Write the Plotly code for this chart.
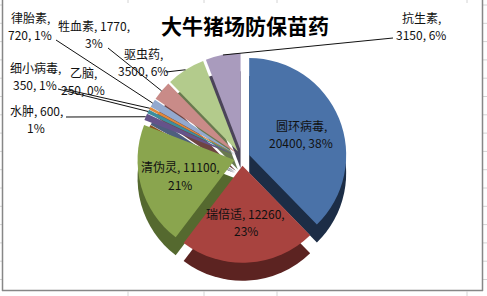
import math
import plotly.graph_objects as go

# ---------------- data ----------------
labels = ["圆环病毒", "瑞倍适", "清伪灵", "水肿", "细小病毒", "乙脑", "律胎素", "牲血素", "驱虫药", "抗生素"]
values = [20400, 12260, 11100, 600, 350, 250, 720, 1770, 3500, 3150]
title_text = "大牛猪场防保苗药"

# ---------------- style ----------------
top_colors = ["#4A72A8", "#A8433F", "#8AA54E", "#65538A", "#3D8E9E",
              "#E0893B", "#93A9CF", "#C98B88", "#B3CB8C", "#A99BBD"]
side_colors = ["#1C2D46", "#5C2321", "#55692F", "#2E2540", "#1F4C56",
               "#8A4F1E", "#4E5F7E", "#6E4442", "#69794F", "#4B4459"]
break_after = [1, 2, 2, 2, 1, 1, 1, 2, 1, 1]
inside = [True, True, True, False, False, False, False, False, False, False]
# label block centres (px) for outside labels, and leader-line start (px)
label_pos = {3: (36, 119), 4: (35, 76), 5: (83, 81), 6: (30, 26), 7: (94, 34), 8: (143, 62), 9: (421, 26)}
leader_start = {3: (66, 117), 4: (58, 89), 5: (64, 89), 6: (56, 40), 7: (108, 48), 8: (166, 72), 9: (393, 38)}

W, H = 487, 296
CX, CY, R, PULL, DEPTH = 242, 158, 97, 0.08, 18
FONT = "Noto Sans CJK SC"
LS = 17.5  # line spacing px

total = sum(values)
hb = R * (1 + PULL)
dom_x = [(CX - hb) / W, (CX + hb) / W]
dom_top = [(H - (CY + hb)) / H, (H - (CY - hb)) / H]
dom_side = [(H - (CY + DEPTH + hb)) / H, (H - (CY + DEPTH - hb)) / H]


def px(x, y):
    return x / W, (H - y) / H


fig = go.Figure()
common = dict(labels=labels, values=values, sort=False, direction="clockwise",
              rotation=0, pull=[PULL] * len(values), textinfo="none",
              hoverinfo="skip", showlegend=False)
fig.add_trace(go.Pie(domain=dict(x=dom_x, y=dom_side),
                     marker=dict(colors=side_colors, line=dict(width=0)), **common))
fig.add_trace(go.Pie(domain=dict(x=dom_x, y=dom_top),
                     marker=dict(colors=top_colors, line=dict(width=0)), **common))

annotations = []
shapes = []
cum = 0
lab_font = dict(family=FONT, size=12, color="#111")
for i, (lab, v) in enumerate(zip(labels, values)):
    pct = f"{round(100 * v / total)}%"
    parts = [lab, f"{v}", pct]
    lines = [", ".join(parts[:break_after[i]]) + ",", ", ".join(parts[break_after[i]:])]
    theta = 2 * math.pi * (cum + v / 2) / total
    cum += v
    dx, dy = math.sin(theta), -math.cos(theta)
    if inside[i]:
        rr = PULL * R + 0.58 * R
        bx, by = CX + dx * rr, CY + dy * rr
    else:
        bx, by = label_pos[i]
        sx, sy = leader_start[i]
        ex = CX + dx * (PULL * R + R)
        ey = CY + dy * (PULL * R + R)
        x0, y0 = px(sx, sy)
        x1, y1 = px(ex, ey)
        shapes.append(dict(type="line", xref="paper", yref="paper", x0=x0, y0=y0, x1=x1, y1=y1,
                           line=dict(color="#111", width=1)))
    for k, ln in enumerate(lines):
        x, y = px(bx, by + (k - 0.5) * LS)
        annotations.append(dict(x=x, y=y, xref="paper", yref="paper", text=ln,
                                xanchor="center", yanchor="middle",
                                showarrow=False, font=lab_font))

# title
tx, ty = px(245, 25)
annotations.append(dict(x=tx, y=ty, xref="paper", yref="paper", text=f"<b>{title_text}</b>",
                        xanchor="center", yanchor="middle",
                        showarrow=False, font=dict(family=FONT, size=21, color="#000")))

# worksheet gridlines outside the chart area
grid = "#D4D4D4"
for gx in [128, 204, 277, 467]:
    a = px(gx, 291.5); b = px(gx, 296)
    shapes.append(dict(type="line", xref="paper", yref="paper", x0=a[0], y0=a[1], x1=b[0], y1=b[1],
                       line=dict(color=grid, width=1)))
    a = px(gx, 0); b = px(gx, 3)
    shapes.append(dict(type="line", xref="paper", yref="paper", x0=a[0], y0=a[1], x1=b[0], y1=b[1],
                       line=dict(color=grid, width=1)))
k = 0
while 5 + 18.3 * k < 291:
    gy = 5 + 18.3 * k
    a = px(483, gy); b = px(487, gy)
    shapes.append(dict(type="line", xref="paper", yref="paper", x0=a[0], y0=a[1], x1=b[0], y1=b[1],
                       line=dict(color=grid, width=1)))
    a = px(0, gy); b = px(2, gy)
    shapes.append(dict(type="line", xref="paper", yref="paper", x0=a[0], y0=a[1], x1=b[0], y1=b[1],
                       line=dict(color=grid, width=1)))
    k += 1

# chart border (left, bottom, right)
bc = "#878787"
for (xa, ya, xb, yb) in [(2.5, 0, 2.5, 291), (2, 290.5, 483, 290.5), (482.5, 0, 482.5, 291)]:
    a = px(xa, ya); b = px(xb, yb)
    shapes.append(dict(type="line", xref="paper", yref="paper", x0=a[0], y0=a[1], x1=b[0], y1=b[1],
                       line=dict(color=bc, width=1.5)))

fig.update_layout(width=W, height=H, margin=dict(l=0, r=0, t=0, b=0),
                  paper_bgcolor="white", plot_bgcolor="white",
                  annotations=annotations, shapes=shapes)
fig.write_html("out.html")
